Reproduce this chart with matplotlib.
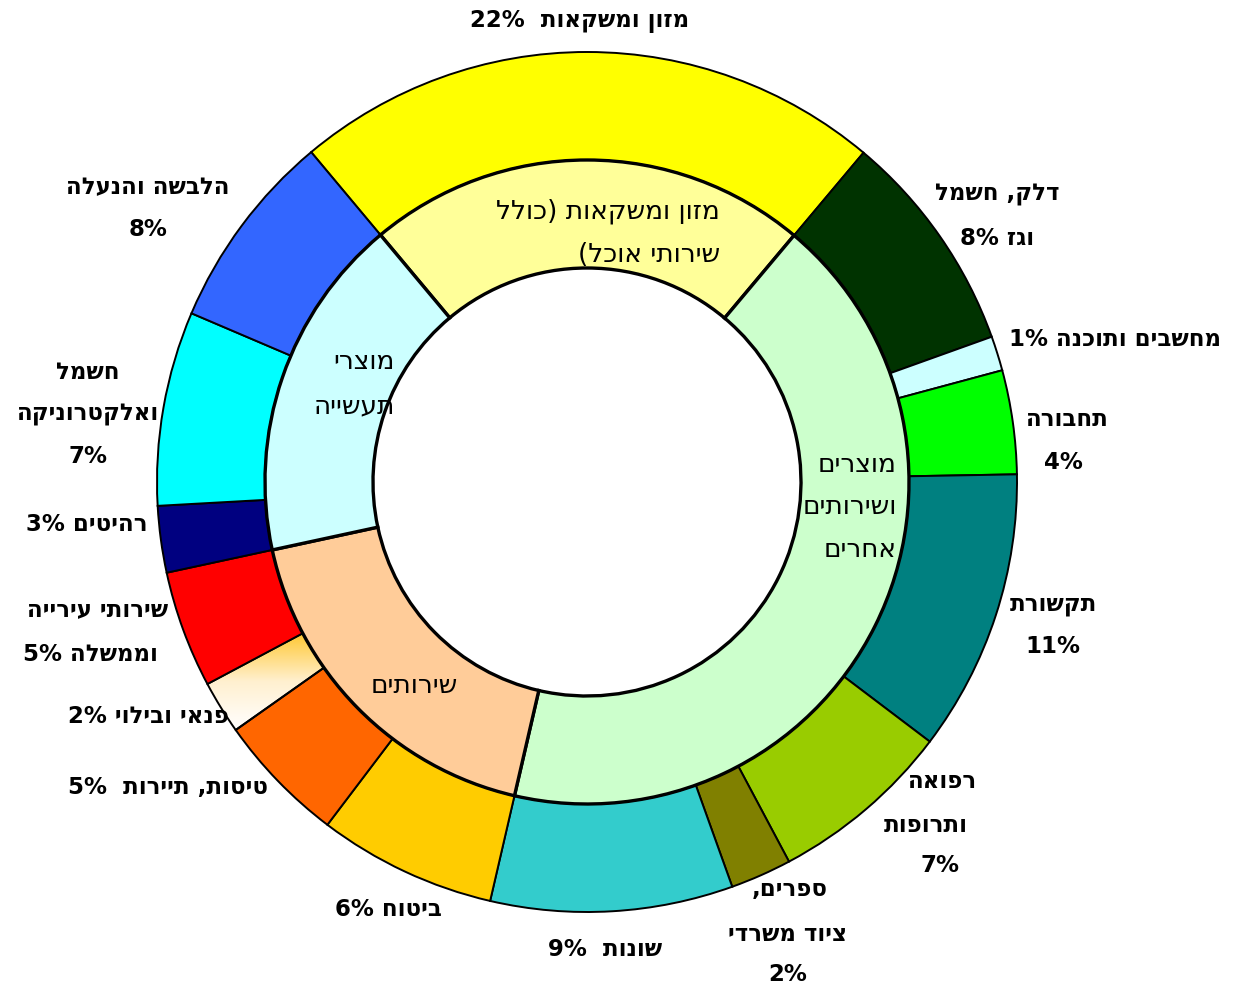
import re
import numpy as np
import matplotlib
matplotlib.use("Agg")
import matplotlib.pyplot as plt
from matplotlib.colors import LinearSegmentedColormap

# ---------------- data ----------------
outer_names = [
    "מזון ומשקאות", "דלק, חשמל וגז", "מחשבים ותוכנה", "תחבורה", "תקשורת",
    "רפואה ותרופות", "ספרים, ציוד משרדי", "שונות", "ביטוח", "טיסות, תיירות",
    "פנאי ובילוי", "שירותי עירייה וממשלה", "רהיטים", "חשמל ואלקטרוניקה", "הלבשה והנעלה",
]
outer_values = [22.2, 8.4, 1.3, 3.9, 10.6, 6.9, 2.3, 9.1, 6.7, 4.9, 2.0, 4.4, 2.5, 7.3, 7.5]
outer_label_lines = [
    ["מזון ומשקאות  22%"],
    ["דלק, חשמל", "וגז 8%"],
    ["מחשבים ותוכנה 1%"],
    ["תחבורה", "4%"],
    ["תקשורת", "11%"],
    ["רפואה", "ותרופות", "7%"],
    ["ספרים,", "ציוד משרדי", "2%"],
    ["שונות  9%"],
    ["ביטוח 6%"],
    ["טיסות, תיירות  5%"],
    ["פנאי ובילוי 2%"],
    ["שירותי עירייה", "וממשלה 5%"],
    ["רהיטים 3%"],
    ["חשמל", "ואלקטרוניקה", "7%"],
    ["הלבשה והנעלה", "8%"],
]
inner_names = ["מזון ומשקאות (כולל שירותי אוכל)", "מוצרים ושירותים אחרים", "שירותים", "מוצרי תעשייה"]
inner_values = [22.2, 42.5, 18.0, 17.3]
inner_label_lines = [
    ["מזון ומשקאות (כולל", "שירותי אוכל)"],
    ["מוצרים", "ושירותים", "אחרים"],
    ["שירותים"],
    ["מוצרי", "תעשייה"],
]

# ---------------- style / layout ----------------
outer_colors = ["#FFFF00", "#003300", "#CCFFFF", "#00FF00", "#008080", "#99CC00", "#808000",
                "#33CCCC", "#FFCC00", "#FF6600", "#FFE9B0", "#FF0000", "#000080", "#00FFFF", "#3366FF"]
inner_colors = ["#FFFF99", "#CCFFCC", "#FFCC99", "#CCFFFF"]

W, H = 1242, 987
CX, CY = 587, H - 483
R_OUT, R_MID, R_IN = 430, 322, 214
START = 129.9

# label anchor points (image pixel coords: x, y of each line)
outer_label_pos = [
    [(580, 22)],
    [(997, 195), (997, 238)],
    [(1115, 340)],
    [(1067, 420), (1063, 463)],
    [(1053, 605), (1053, 647)],
    [(943, 782), (926, 826), (940, 866)],
    [(790, 890), (788, 935), (788, 975)],
    [(605, 950)],
    [(388, 910)],
    [(168, 788)],
    [(148, 717)],
    [(98, 610), (90, 655)],
    [(87, 525)],
    [(88, 373), (88, 415), (88, 457)],
    [(148, 188), (148, 230)],
]
inner_label_pos = [  # right edge x, y
    [(720, 212), (720, 255)],
    [(897, 465), (897, 507), (897, 550)],
    [(458, 686)],
    [(395, 362), (395, 406)],
]

FONT = ["DejaVu Sans"]


def vis(s):
    """Convert logical RTL Hebrew string to visual (left-to-right) order."""
    r = s[::-1]
    r = re.sub(r"[0-9%.]+", lambda m: m.group(0)[::-1], r)
    r = r.translate(str.maketrans("()", ")("))
    return r


fig = plt.figure(figsize=(W / 100, H / 100), dpi=100)
ax = fig.add_axes([0, 0, 1, 1])

wedges_out, _ = ax.pie(outer_values, radius=R_OUT, center=(CX, CY), startangle=START,
                       counterclock=False, colors=outer_colors,
                       wedgeprops=dict(width=R_OUT - R_MID, edgecolor="black", linewidth=1.4))
wedges_in, _ = ax.pie(inner_values, radius=R_MID, center=(CX, CY), startangle=START,
                      counterclock=False, colors=inner_colors,
                      wedgeprops=dict(width=R_MID - R_IN, edgecolor="black", linewidth=2.4))

# gradient fill for the leisure wedge
lw = wedges_out[10]
lw.set_facecolor("none")
ext = lw.get_path().get_extents()
grad = np.linspace(0, 1, 256).reshape(-1, 1)
cmap = LinearSegmentedColormap.from_list("g", ["#FFFFFF", "#FFF0D0", "#FFC832"])
im = ax.imshow(grad, extent=(ext.x0, ext.x1, ext.y0, ext.y1), origin="lower",
               cmap=cmap, aspect="auto", zorder=0.5, interpolation="bilinear")
im.set_clip_path(lw)

ax.set_xlim(0, W)
ax.set_ylim(0, H)
ax.set_aspect("auto")
ax.axis("off")

for lines, pos in zip(outer_label_lines, outer_label_pos):
    for t, (x, y) in zip(lines, pos):
        ax.text(x, H - y, vis(t), ha="center", va="center", fontsize=16.5,
                fontweight="bold", family=FONT, zorder=5)

for lines, pos in zip(inner_label_lines, inner_label_pos):
    for t, (x, y) in zip(lines, pos):
        ax.text(x, H - y, vis(t), ha="right", va="center", fontsize=19,
                family=FONT, zorder=5)

fig.savefig("out.png", dpi=100)
